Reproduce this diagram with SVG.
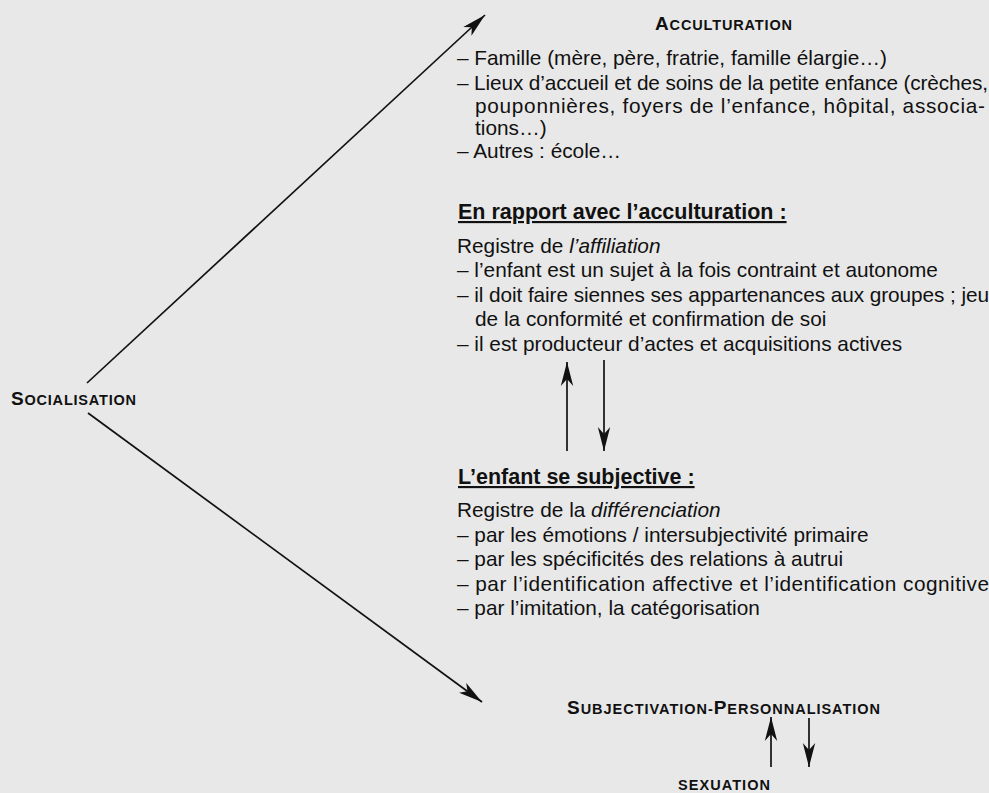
<svg xmlns="http://www.w3.org/2000/svg" width="989" height="793" viewBox="0 0 989 793">
<defs>
<marker id="ah" markerUnits="userSpaceOnUse" markerWidth="26" markerHeight="14" refX="24" refY="7" orient="auto">
<path d="M0,1 L24,7 L0,13 L6,7 z" fill="#111"/>
</marker>
<marker id="ahs" markerUnits="userSpaceOnUse" markerWidth="26" markerHeight="14" refX="24" refY="7" orient="auto">
<path d="M0,0.8 L24,7 L0,13.2 L7,7 z" fill="#111"/>
</marker>
</defs>
<style>
text{font-family:"Liberation Sans",Arial,sans-serif;fill:#111;}
.b{font-size:20.8px;}
.h{font-size:21.5px;font-weight:bold;text-decoration:underline;}
.sc{font-weight:bold;}
.big{font-size:19px;}
.sm{font-size:14.5px;}
.ln{stroke:#111;stroke-width:1.7;fill:none;}
</style>
<rect width="989" height="793" fill="#e8e8e8"/>
<g id="connectors">
<line class="ln" x1="87" y1="383" x2="485" y2="15" marker-end="url(#ah)"/>
<line class="ln" x1="88" y1="413" x2="482" y2="702" marker-end="url(#ah)"/>
<line class="ln" x1="567" y1="451" x2="567" y2="362" marker-end="url(#ahs)"/>
<line class="ln" x1="604" y1="360" x2="604" y2="451" marker-end="url(#ahs)"/>
<line class="ln" x1="771" y1="767" x2="771" y2="717" marker-end="url(#ahs)"/>
<line class="ln" x1="809" y1="718" x2="809" y2="767" marker-end="url(#ahs)"/>
</g>
<g id="socialisation">
<text class="sc" x="11" y="405" textLength="125" lengthAdjust="spacing"><tspan class="big">S</tspan><tspan class="sm">OCIALISATION</tspan></text>
</g>
<g id="acculturation">
<text class="sc" x="655" y="30" textLength="137" lengthAdjust="spacing"><tspan class="big">A</tspan><tspan class="sm">CCULTURATION</tspan></text>
<text class="b" x="457" y="65">– Famille (mère, père, fratrie, famille élargie…)</text>
<text class="b" x="457" y="89.5" textLength="531" lengthAdjust="spacing">– Lieux d’accueil et de soins de la petite enfance (crèches,</text>
<text class="b" x="475" y="112.5" textLength="510" lengthAdjust="spacing">pouponnières, foyers de l’enfance, hôpital, associa-</text>
<text class="b" x="475" y="135">tions…)</text>
<text class="b" x="457" y="157.5">– Autres : école…</text>
</g>
<g id="affiliation">
<text class="h" x="458" y="219">En rapport avec l’acculturation :</text>
<text class="b" x="457" y="252.5">Registre de <tspan font-style="italic">l’affiliation</tspan></text>
<text class="b" x="457" y="277">– l’enfant est un sujet à la fois contraint et autonome</text>
<text class="b" x="457" y="301.5" textLength="532" lengthAdjust="spacing">– il doit faire siennes ses appartenances aux groupes ; jeu</text>
<text class="b" x="475" y="326">de la conformité et confirmation de soi</text>
<text class="b" x="457" y="351">– il est producteur d’actes et acquisitions actives</text>
</g>
<g id="subjective">
<text class="h" x="458" y="484">L’enfant se subjective :</text>
<text class="b" x="457" y="517">Registre de la <tspan font-style="italic">différenciation</tspan></text>
<text class="b" x="457" y="541.5">– par les émotions / intersubjectivité primaire</text>
<text class="b" x="457" y="566">– par les spécificités des relations à autrui</text>
<text class="b" x="457" y="590.5" textLength="532" lengthAdjust="spacing">– par l’identification affective et l’identification cognitive</text>
<text class="b" x="457" y="615">– par l’imitation, la catégorisation</text>
</g>
<g id="subjectivation">
<text class="sc" x="567" y="714" textLength="313" lengthAdjust="spacing"><tspan class="big">S</tspan><tspan class="sm">UBJECTIVATION-</tspan><tspan class="big">P</tspan><tspan class="sm">ERSONNALISATION</tspan></text>
</g>
<g id="sexuation">
<text class="sc sm" x="678" y="790" textLength="92" lengthAdjust="spacing">SEXUATION</text>
</g>
</svg>
